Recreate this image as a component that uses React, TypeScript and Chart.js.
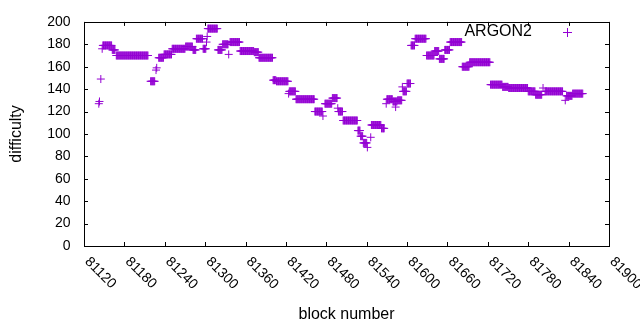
import React, { useEffect, useRef } from 'react';
import { Chart, registerables } from 'chart.js';

Chart.register(...registerables);

const seriesLabel = 'ARGON2';
const xTickValues = [81120, 81180, 81240, 81300, 81360, 81420, 81480, 81540, 81600, 81660, 81720, 81780, 81840, 81900];
const yTickValues = [0, 20, 40, 60, 80, 100, 120, 140, 160, 180, 200];

const runStart = [
  81142, 81143, 81145, 81147, 81148, 81162, 81168, 81219, 81227, 81228,
  81231, 81239, 81251, 81271, 81282, 81287, 81297, 81302, 81303, 81304,
  81319, 81326, 81335, 81337, 81352, 81373, 81380, 81401, 81406, 81424,
  81425, 81435, 81463, 81475, 81478, 81489, 81497, 81498, 81505, 81527,
  81531, 81535, 81541, 81546, 81547, 81562, 81569, 81570, 81579, 81583,
  81586, 81593, 81594, 81600, 81606, 81612, 81629, 81641, 81648, 81656,
  81664, 81682, 81693, 81724, 81742, 81751, 81780, 81791, 81802, 81805,
  81835, 81837, 81846,
];
const runEnd = [
  81142, 81143, 81145, 81147, 81161, 81166, 81215, 81225, 81227, 81228,
  81238, 81250, 81270, 81281, 81286, 81296, 81301, 81302, 81303, 81318,
  81325, 81334, 81335, 81351, 81372, 81379, 81400, 81405, 81423, 81424,
  81434, 81462, 81474, 81475, 81488, 81496, 81497, 81504, 81526, 81530,
  81534, 81540, 81541, 81546, 81561, 81566, 81569, 81578, 81585, 81583,
  81592, 81593, 81599, 81605, 81611, 81628, 81640, 81647, 81655, 81663,
  81681, 81692, 81723, 81741, 81750, 81779, 81790, 81800, 81802, 81831,
  81835, 81845, 81861,
];
const runValue = [
  127, 129, 149, 176, 179, 175, 170, 147, 157, 159,
  168, 171, 176, 178, 175, 185, 176, 182, 187, 194,
  175, 180, 171, 182, 174, 173, 168, 148, 147, 136,
  138, 131, 120, 116, 127, 132, 123, 120, 112, 103,
  98, 92, 88, 97, 108, 105, 127, 131, 129, 124,
  130, 142, 138, 145, 179, 185, 170, 174, 167, 175,
  182, 160, 164, 144, 142, 141, 138, 135, 141, 138,
  130, 134, 136,
];

const COLOR = '#9400d3';
const FONT = '"Liberation Sans", Arial, sans-serif';

function buildPoints() {
  const pts: { x: number; y: number }[] = [];
  for (let i = 0; i < runStart.length; i++) {
    for (let b = runStart[i]; b <= runEnd[i]; b++) {
      pts.push({ x: b, y: runValue[i] });
    }
  }
  return pts;
}

const framePlugin = {
  id: 'gnuFrame',
  afterDatasetsDraw(chart: any) {
    const { ctx, chartArea } = chart;
    const { left, right, top, bottom } = chartArea;
    const xs = chart.scales.x;
    const ys = chart.scales.y;
    ctx.save();
    ctx.strokeStyle = '#000';
    ctx.lineWidth = 1;
    ctx.beginPath();
    const tl = 4;
    for (const v of xTickValues) {
      const px = Math.round(xs.getPixelForValue(v)) + 0.5;
      ctx.moveTo(px, bottom);
      ctx.lineTo(px, bottom - tl);
      ctx.moveTo(px, top);
      ctx.lineTo(px, top + tl);
    }
    for (const v of yTickValues) {
      const py = Math.round(ys.getPixelForValue(v)) + 0.5;
      ctx.moveTo(left, py);
      ctx.lineTo(left + tl, py);
      ctx.moveTo(right, py);
      ctx.lineTo(right - tl, py);
    }
    ctx.stroke();
    ctx.strokeRect(Math.round(left) + 0.5, Math.round(top) + 0.5, Math.round(right - left), Math.round(bottom - top));

    // rotated x tick labels
    ctx.fillStyle = '#000';
    ctx.font = '14px ' + FONT;
    ctx.textAlign = 'left';
    ctx.textBaseline = 'middle';
    for (const v of xTickValues) {
      const px = xs.getPixelForValue(v);
      ctx.save();
      ctx.translate(px + 3, bottom + 13.5);
      ctx.rotate(Math.PI / 4);
      ctx.fillText(String(v), 0, 0);
      ctx.restore();
    }

    // legend (gnuplot style: text then sample)
    ctx.font = '16px ' + FONT;
    ctx.textAlign = 'right';
    ctx.textBaseline = 'middle';
    ctx.fillText(seriesLabel, 532, 32);
    ctx.strokeStyle = COLOR;
    ctx.beginPath();
    ctx.moveTo(563, 32.5);
    ctx.lineTo(572, 32.5);
    ctx.moveTo(567.5, 28);
    ctx.lineTo(567.5, 37);
    ctx.stroke();
    ctx.restore();
  },
};

export default function App() {
  const ref = useRef<HTMLCanvasElement>(null);
  useEffect(() => {
    document.body.style.margin = '0';
    const canvas = ref.current;
    if (!canvas) return;
    const chart = new Chart(canvas, {
      type: 'scatter',
      data: {
        datasets: [
          {
            label: seriesLabel,
            data: buildPoints(),
            pointStyle: 'cross',
            pointRadius: 4,
            pointBorderWidth: 1,
            borderColor: COLOR,
            backgroundColor: COLOR,
            pointHoverRadius: 4,
          },
        ],
      },
      options: {
        responsive: false,
        animation: false,
        events: [],
        layout: { padding: { left: 0, top: 19, right: 31, bottom: 0 } },
        plugins: {
          legend: { display: false },
          tooltip: { enabled: false },
        },
        scales: {
          x: {
            type: 'linear',
            min: 81120,
            max: 81900,
            grid: { display: false },
            border: { display: false },
            ticks: { display: false, stepSize: 60 },
            title: {
              display: true,
              text: 'block number',
              color: '#000',
              font: { family: FONT, size: 16 },
              padding: { top: 0, bottom: 5.4 },
            },
            afterFit: (s: any) => {
              s.height = 84;
            },
          },
          y: {
            type: 'linear',
            min: 0,
            max: 200,
            grid: { display: false, drawTicks: false },
            border: { display: false },
            ticks: {
              stepSize: 20,
              color: '#000',
              padding: 13.5,
              font: { family: FONT, size: 14 },
            },
            title: {
              display: true,
              text: 'difficulty',
              color: '#000',
              font: { family: FONT, size: 16 },
              padding: { top: 7.4, bottom: 0 },
            },
            afterFit: (s: any) => {
              s.width = 84;
            },
          },
        },
      },
      plugins: [framePlugin],
    });
    return () => chart.destroy();
  }, []);
  return (
    <div style={{ width: 640, height: 330 }}>
      <canvas ref={ref} width={640} height={330} style={{ display: 'block', width: 640, height: 330 }} />
    </div>
  );
}
